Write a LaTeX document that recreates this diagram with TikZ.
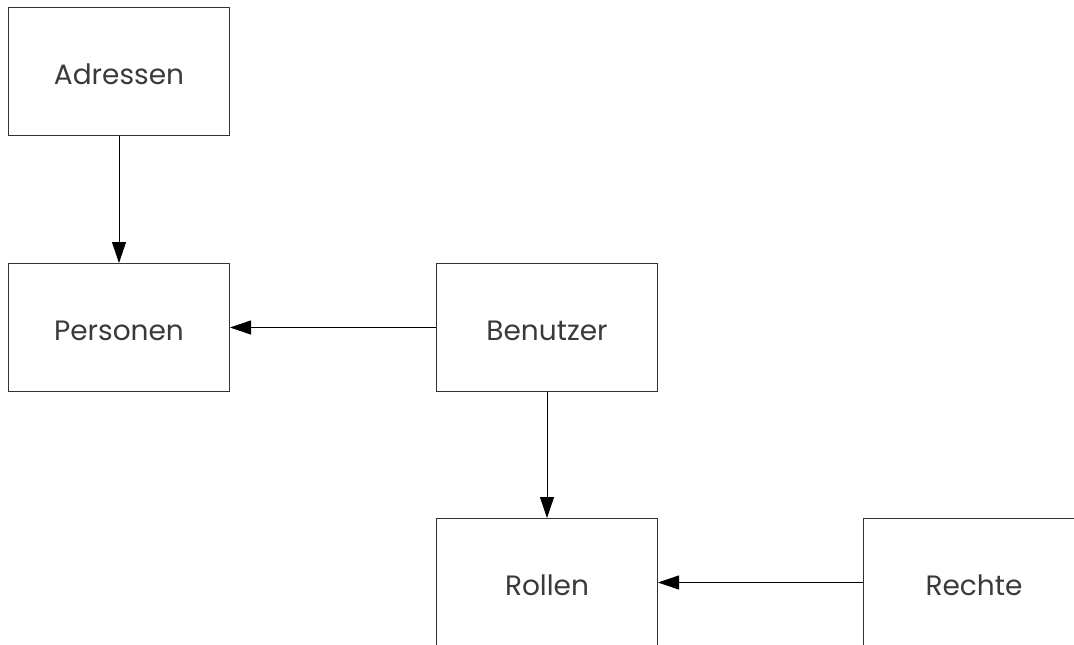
\documentclass[tikz,border=0pt]{standalone}
\usepackage{fontspec}
\setmainfont{Poppins}
\usetikzlibrary{arrows.meta}
\definecolor{boxline}{HTML}{333333}
\definecolor{boxtext}{HTML}{3A3A3A}
\begin{document}
\begin{tikzpicture}[x=1pt,y=-1pt,
  entity/.style={draw=boxline,line width=1pt,minimum width=221pt,minimum height=128pt,
    inner sep=0pt,anchor=north west,text=boxtext,font=\fontsize{28}{32}\selectfont},
  label/.style={text=boxtext,font=\fontsize{28}{32}\selectfont,inner sep=0pt},
  link/.style={draw=black,line width=0.9pt,-{Triangle[length=21pt,width=14pt]}}]
\useasboundingbox (0,0) rectangle (1074,645);
\begin{scope}
\clip (0,0) rectangle (1074,645);
\node[entity] (adr) at (8,7) {};
\node[entity] (per) at (8,263) {};
\node[entity] (ben) at (436,263) {};
\node[entity] (rol) at (436,518) {};
\node[entity] (rec) at (863,518) {};
\node[label,yshift=-3pt] (adrt) at (adr.center) {Adressen};
\node[label,yshift=-3pt] (pert) at (per.center) {Personen};
\node[label,yshift=-3pt] (bent) at (ben.center) {Benutzer};
\node[label,yshift=-3pt] (rolt) at (rol.center) {Rollen};
\node[label,yshift=-3pt] (rect) at (rec.center) {Rechte};
\draw[link] (adr) -- (per);
\draw[link] (ben) -- (per);
\draw[link] (ben) -- (rol);
\draw[link] (rec) -- (rol);
\end{scope}
\end{tikzpicture}
\end{document}
